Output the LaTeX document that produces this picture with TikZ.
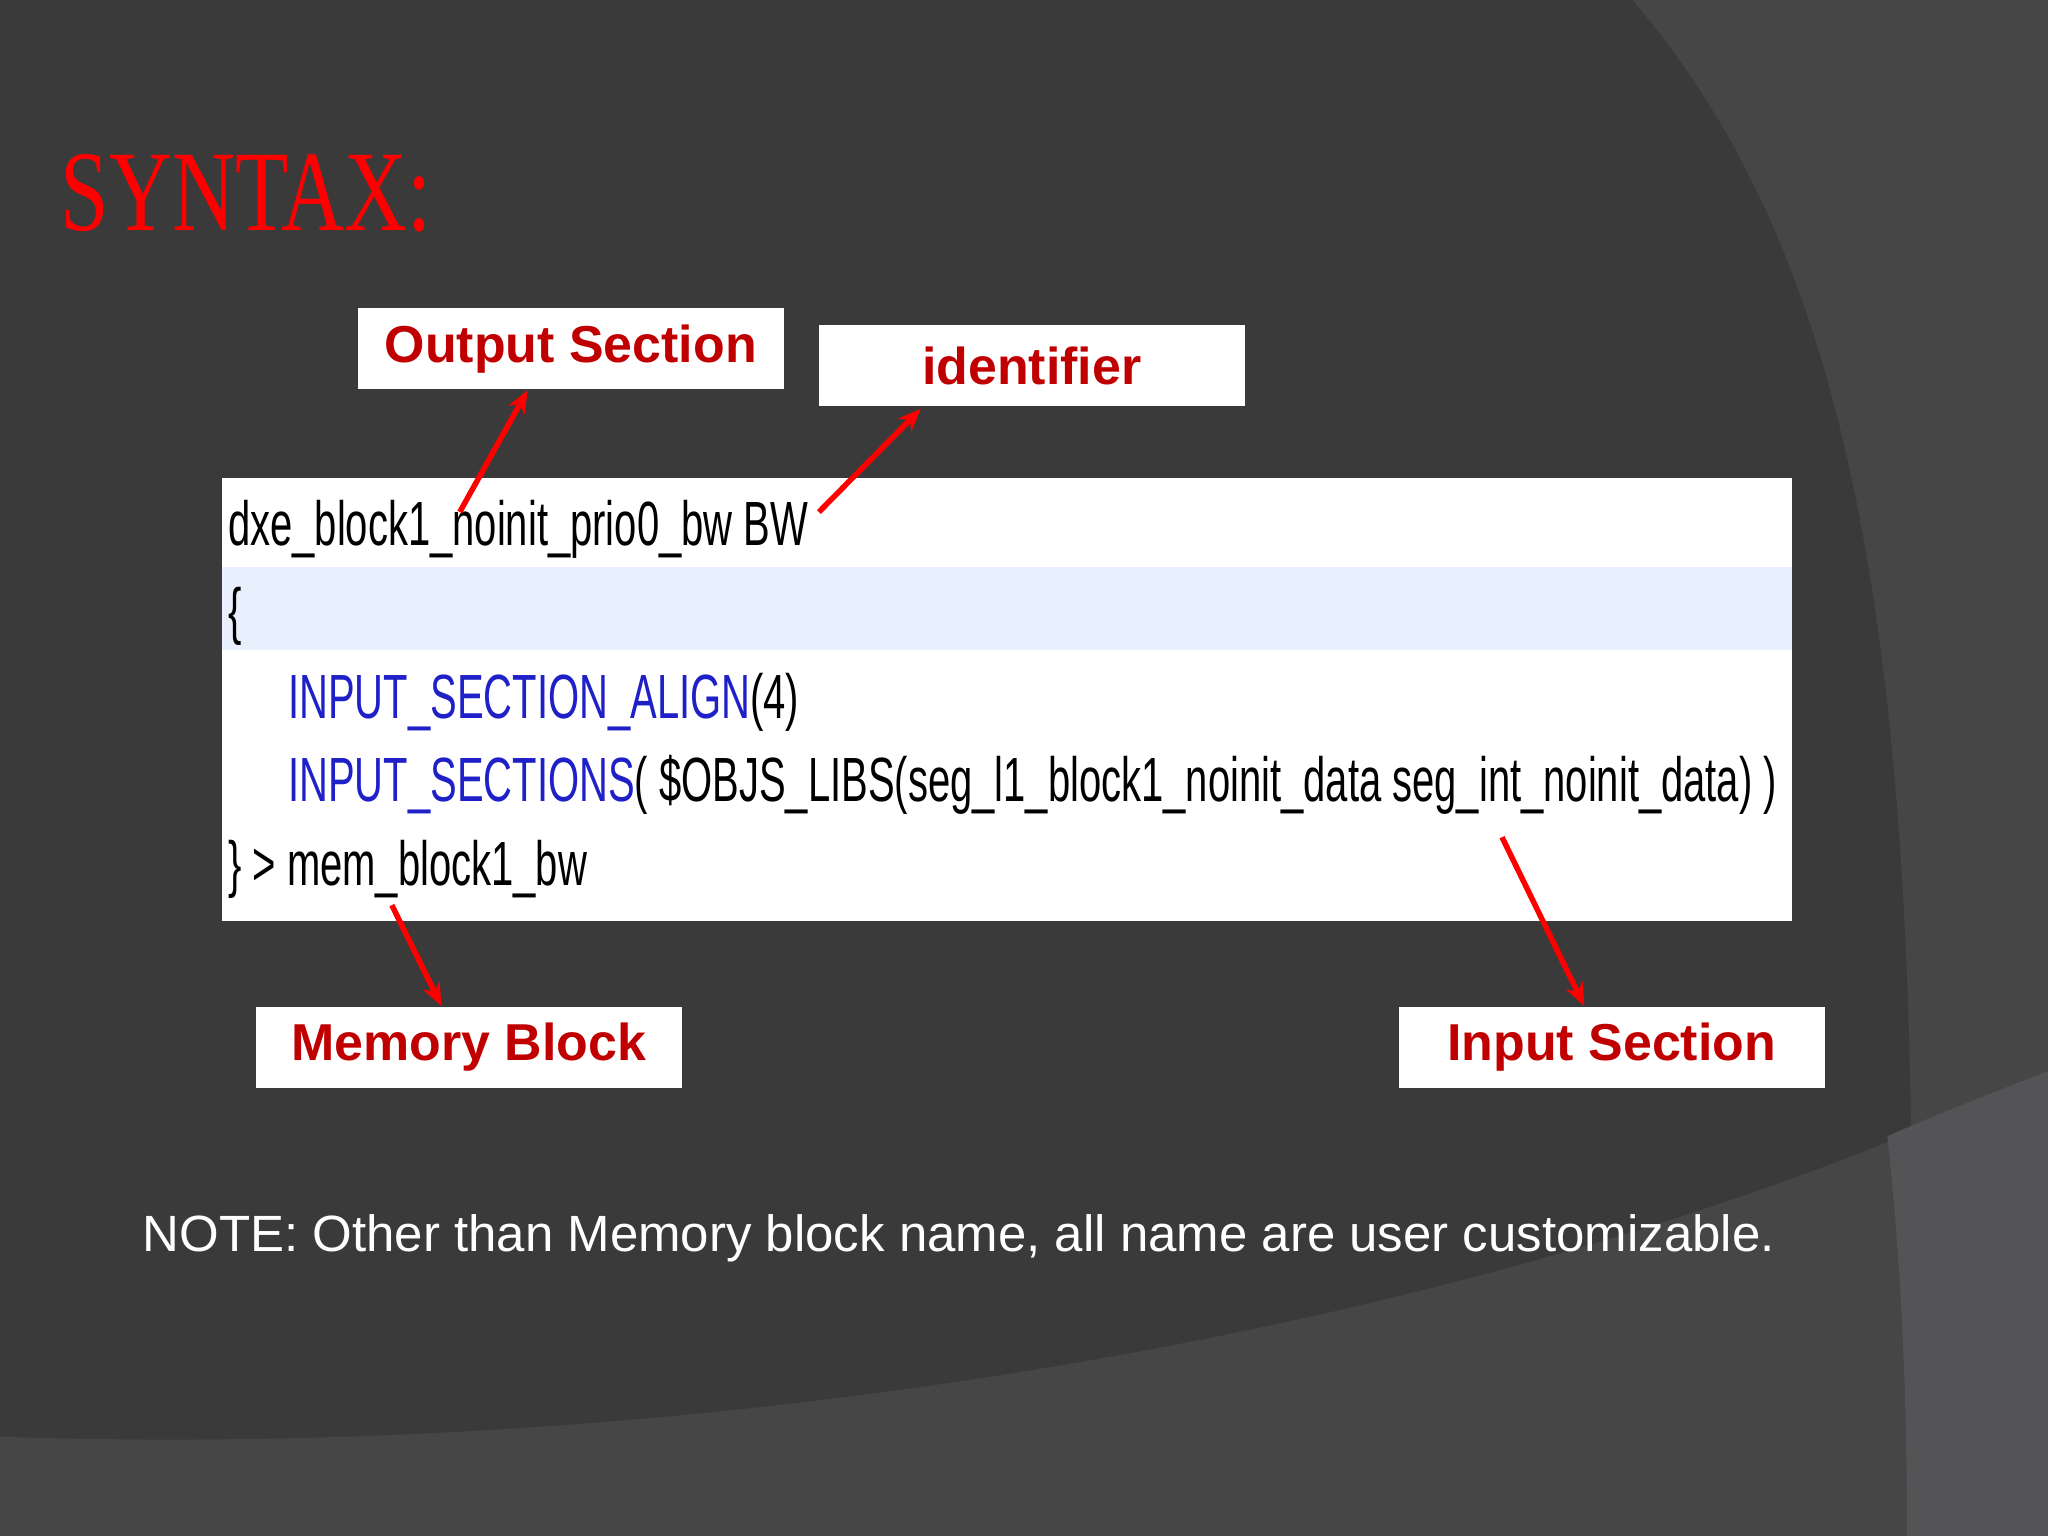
\documentclass[tikz,border=0pt]{standalone}
\usepackage{fontspec}
\setmainfont{Liberation Sans}
\newfontfamily\codefont[FakeStretch=0.64]{Liberation Sans}
\newfontfamily\titlefont[FakeStretch=0.76]{Liberation Serif}
\usetikzlibrary{arrows.meta}
\definecolor{bg}{HTML}{3A3A3B}
\definecolor{bgl}{HTML}{464647}
\definecolor{bgll}{HTML}{545456}
\definecolor{lbl}{HTML}{C00000}
\definecolor{hl}{HTML}{E8EFFD}
\definecolor{kw}{HTML}{2020C8}
\tikzset{
 lab/.style={draw=none,fill=white,minimum width=3.26cm,minimum height=0.62cm,inner sep=0pt,font=\bfseries\fontsize{11.3}{12}\selectfont,text=lbl},
 code/.style={anchor=base west,inner sep=0pt,font=\codefont\fontsize{13.6}{14}\selectfont},
 arr/.style={draw=red,line width=1.2pt,-{Stealth[length=5pt,width=4pt]}}
}
\begin{document}
\begin{tikzpicture}[x=0.01cm,y=-0.01cm]
\fill[bg] (0,0) rectangle (1568,1176);
\fill[bgl] (1250,0) .. controls (1420,200) and (1480,500) .. (1460,1176) -- (1568,1176) -- (1568,0) -- cycle;
\fill[bgl] (0,1100) .. controls (600,1120) and (1200,1000) .. (1568,820) -- (1568,1176) -- (0,1176) -- cycle;
\fill[bgll] (1445,870) .. controls (1490,850) and (1530,835) .. (1568,820) -- (1568,1176) -- (1460,1176) .. controls (1460,1060) and (1455,960) .. (1445,870) -- cycle;
\node[anchor=west,inner sep=0pt,text=red,font=\titlefont\fontsize{25}{28}\selectfont] (title) at (46,148) {SYNTAX:};
\fill[white] (170,366) rectangle (1372,705);
\fill[hl] (170,434) rectangle (1372,498);
\node[code] (l1) at (174,418) {dxe\_block1\_noinit\_prio0\_bw BW};
\node[code] (l2) at (174,484) {\{};
\node[code,text=kw] (l3) at (220,550) {INPUT\_SECTION\_ALIGN\textcolor{black}{(4)}};
\node[code] (l4) at (220,614) {\textcolor{kw}{INPUT\_SECTIONS}( \$OBJS\_LIBS(seg\_l1\_block1\_noinit\_data seg\_int\_noinit\_data) )};
\node[code] (l5) at (174,678) {\} > mem\_block1\_bw};
\node[lab] (os) at (437,267) {Output Section};
\node[lab] (id) at (790,280) {identifier};
\node[lab] (mb) at (359,802) {Memory Block};
\node[lab] (is) at (1234,802) {Input Section};
\coordinate (a1) at (352,392);
\coordinate (a2) at (627,392);
\coordinate (a3) at (300,693);
\coordinate (a4) at (1150,641);
\draw[arr] (a1) -- (os.south -| 404,0);
\draw[arr] (a2) -- (705,313);
\draw[arr] (a3) -- (mb.north -| 338,0);
\draw[arr] (a4) -- (is.north -| 1213,0);
\node[text=white,font=\fontsize{11.1}{12}\selectfont] (note) at (734,948) {NOTE: Other than Memory block name, all name are user customizable.};
\end{tikzpicture}
\end{document}
